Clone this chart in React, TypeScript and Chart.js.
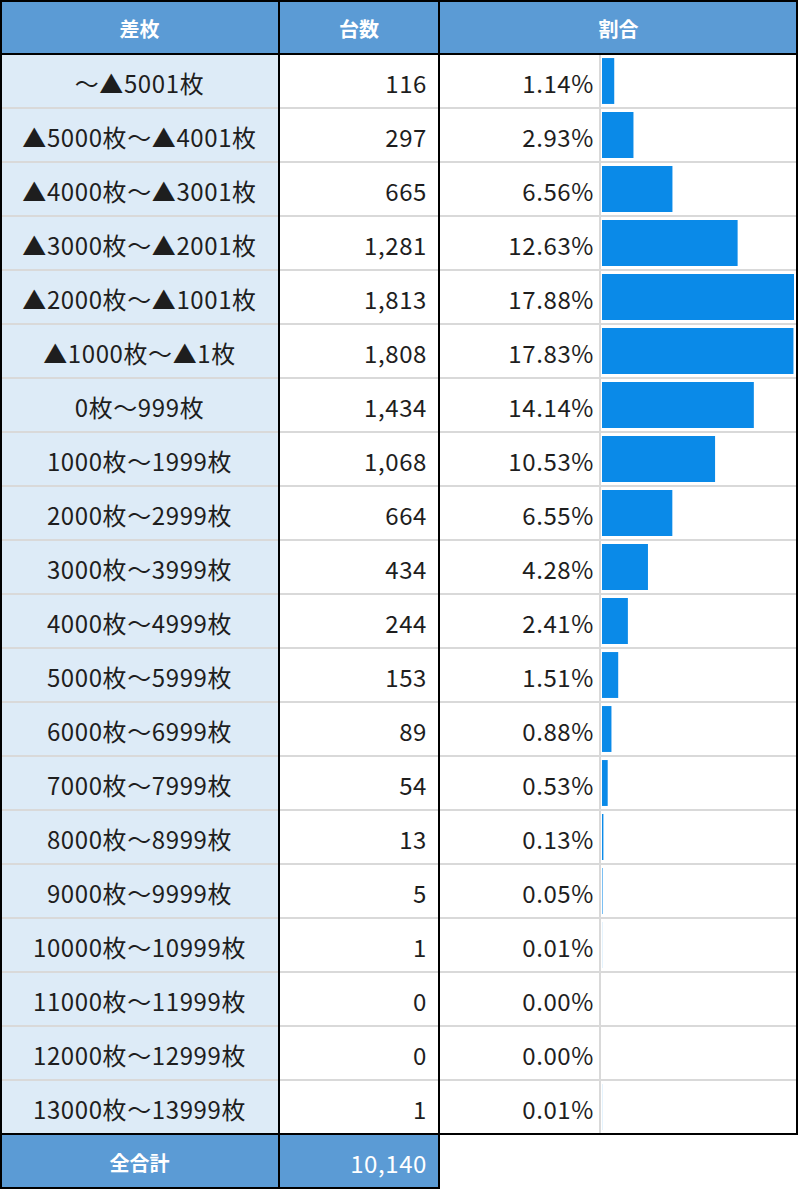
import { useEffect, useRef } from 'react'
import { Chart, registerables } from 'chart.js'

Chart.register(...registerables)

const HEADERS = ['差枚', '台数', '割合']

const BANDS = [
  '～▲5001枚',
  '▲5000枚～▲4001枚',
  '▲4000枚～▲3001枚',
  '▲3000枚～▲2001枚',
  '▲2000枚～▲1001枚',
  '▲1000枚～▲1枚',
  '0枚～999枚',
  '1000枚～1999枚',
  '2000枚～2999枚',
  '3000枚～3999枚',
  '4000枚～4999枚',
  '5000枚～5999枚',
  '6000枚～6999枚',
  '7000枚～7999枚',
  '8000枚～8999枚',
  '9000枚～9999枚',
  '10000枚～10999枚',
  '11000枚～11999枚',
  '12000枚～12999枚',
  '13000枚～13999枚',
]

const COUNTS = [116, 297, 665, 1281, 1813, 1808, 1434, 1068, 664, 434, 244, 153, 89, 54, 13, 5, 1, 0, 0, 1]

const SHARES = [1.14, 2.93, 6.56, 12.63, 17.88, 17.83, 14.14, 10.53, 6.55, 4.28, 2.41, 1.51, 0.88, 0.53, 0.13, 0.05, 0.01, 0.0, 0.0, 0.01]

const TOTAL_LABEL = '全合計'
const TOTAL = 10140

const BLUE   = '#5b9bd5'
const PALE   = '#ddebf7'
const BAR    = '#0a8ae8'
const GRID   = '#d9d9d9'
const INK    = '#1e1e1e'
const FONT   = '"Noto Sans CJK JP", "Noto Sans", sans-serif'

const ROW_H  = 54
const COL_X  = [0, 279, 439, 798]
const PCT_SPLIT = 600

function ShareBars() {
  const canvasRef = useRef<HTMLCanvasElement | null>(null)

  useEffect(() => {
    if (!canvasRef.current) return
    const chart = new Chart(canvasRef.current, {
      type: 'bar',
      data: {
        labels: BANDS,
        datasets: [{
          data: SHARES,
          backgroundColor: BAR,
          borderWidth: 0,
          barPercentage: 0.85,
          categoryPercentage: 1,
        }],
      },
      options: {
        indexAxis: 'y',
        animation: false,
        responsive: true,
        maintainAspectRatio: false,
        layout: { padding: 0 },
        scales: {
          x: { display: false, min: 0, max: Math.max(...SHARES) },
          y: { display: false },
        },
        plugins: {
          legend: { display: false },
          tooltip: { enabled: false },
        },
      },
    })
    return () => chart.destroy()
  }, [])

  return (
    <div style={{ position: 'absolute', left: 602, top: ROW_H, width: 192, height: ROW_H * BANDS.length }}>
      <canvas ref={canvasRef} />
    </div>
  )
}

function Cell({ x, y, w, bg, align, color, bold, pad, children }: {
  x: number; y: number; w: number; bg?: string; align: 'center' | 'flex-end'
  color?: string; bold?: boolean; pad?: number; children: React.ReactNode
}) {
  return (
    <div style={{
      position: 'absolute', left: x, top: y, width: w, height: ROW_H,
      background: bg, display: 'flex', alignItems: 'center', justifyContent: align,
      boxSizing: 'border-box', paddingRight: pad ?? 0, paddingTop: 3,
      color: color ?? INK, fontWeight: bold ? 700 : 400,
      fontSize: bold ? 20 : 24, letterSpacing: bold ? 0 : 0.6,
      whiteSpace: 'nowrap', lineHeight: 1,
    }}>{children}</div>
  )
}

function Line({ x, y, w, h, c }: { x: number; y: number; w: number; h: number; c: string }) {
  return <div style={{ position: 'absolute', left: x, top: y, width: w, height: h, background: c }} />
}

export default function App() {
  const n = BANDS.length
  const bodyBottom = ROW_H * (n + 1)
  const footY = bodyBottom

  return (
    <div style={{ position: 'relative', width: 798, height: 1190, fontFamily: FONT, background: '#fff' }}>
      <style>{'body{margin:0}'}</style>

      {HEADERS.map((h, i) => (
        <Cell key={h} x={COL_X[i]} y={0} w={COL_X[i + 1] - COL_X[i]} bg={BLUE} align="center" color="#fff" bold>
          {h}
        </Cell>
      ))}

      {BANDS.map((b, i) => {
        const y = ROW_H * (i + 1)
        return (
          <div key={b}>
            <Cell x={0} y={y} w={COL_X[1]} bg={PALE} align="center">{b}</Cell>
            <Cell x={COL_X[1]} y={y} w={COL_X[2] - COL_X[1]} align="flex-end" pad={12}>
              {COUNTS[i].toLocaleString('en-US')}
            </Cell>
            <Cell x={COL_X[2]} y={y} w={PCT_SPLIT - COL_X[2]} align="flex-end" pad={6}>
              {SHARES[i].toFixed(2) + '%'}
            </Cell>
          </div>
        )
      })}

      <Cell x={0} y={footY} w={COL_X[1]} bg={BLUE} align="center" color="#fff" bold>{TOTAL_LABEL}</Cell>
      <Cell x={COL_X[1]} y={footY} w={COL_X[2] - COL_X[1]} bg={BLUE} align="flex-end" color="#fff" pad={12}>
        {TOTAL.toLocaleString('en-US')}
      </Cell>

      {BANDS.slice(1).map((b, i) => (
        <Line key={'g' + b} x={2} y={ROW_H * (i + 2) - 1} w={794} h={2} c={GRID} />
      ))}
      <Line x={PCT_SPLIT - 1} y={ROW_H + 1} w={2} h={ROW_H * n - 2} c={GRID} />

      <ShareBars />

      <Line x={0} y={0} w={798} h={2} c="#000" />
      <Line x={0} y={ROW_H - 1} w={798} h={2} c="#000" />
      <Line x={0} y={bodyBottom - 1} w={798} h={2} c="#000" />
      <Line x={0} y={footY + ROW_H - 1} w={COL_X[2] + 1} h={2} c="#000" />
      <Line x={0} y={0} w={2} h={footY + ROW_H + 1} c="#000" />
      <Line x={COL_X[1] - 1} y={0} w={2} h={footY + ROW_H + 1} c="#000" />
      <Line x={COL_X[2] - 1} y={0} w={2} h={footY + ROW_H + 1} c="#000" />
      <Line x={796} y={0} w={2} h={bodyBottom + 1} c="#000" />
    </div>
  )
}
